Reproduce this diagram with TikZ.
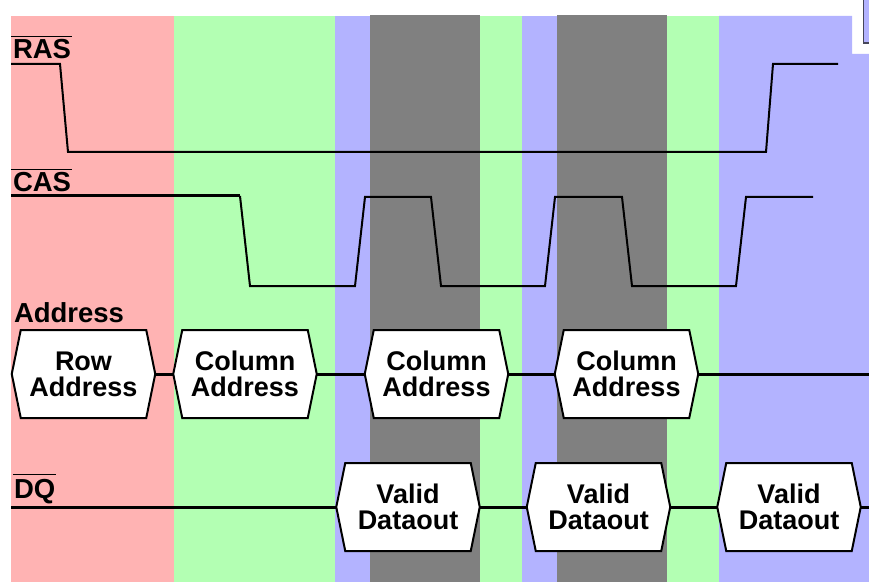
\documentclass[tikz,border=0pt]{standalone}
\usepackage{fontspec}
\setmainfont{Liberation Sans}
\pgfdeclarelayer{bg}
\pgfdeclarelayer{hex}
\pgfsetlayers{bg,hex,main}
\definecolor{pinkbg}{RGB}{255,179,179}
\definecolor{greenbg}{RGB}{179,255,179}
\definecolor{bluebg}{RGB}{179,179,255}
\definecolor{graybg}{RGB}{128,128,128}
\definecolor{edgec}{RGB}{70,70,90}
\tikzset{
  sig/.style={line width=2bp, line join=miter},
  sigthick/.style={line width=3bp},
  bus/.style={line width=3bp},
  hexline/.style={line width=2bp, fill=white, draw=black, line join=miter},
  ovl/.style={line width=1bp},
  lab/.style={inner sep=0pt, outer sep=0pt, font=\fontsize{27.5bp}{27.5bp}\selectfont\bfseries},
  boxtxt/.style={inner sep=0pt, outer sep=0pt, minimum width=143.5bp, minimum height=88bp,
    align=center, font=\fontsize{27bp}{26bp}\selectfont\bfseries},
}
\begin{document}
\begin{tikzpicture}[x=1bp,y=-1bp]
\useasboundingbox (0,0) rectangle (869,582);
\begin{pgfonlayer}{bg}
\begin{scope}
\clip (0,0) rectangle (869,582);
\fill[pinkbg] (11,16) rectangle (174,582);
\fill[greenbg] (174,16) rectangle (335,582);
\fill[bluebg] (335,16) rectangle (370,582);
\fill[graybg] (370,15) rectangle (480,582);
\fill[greenbg] (480,16) rectangle (522,582);
\fill[bluebg] (522,16) rectangle (557,582);
\fill[graybg] (557,15) rectangle (667,582);
\fill[greenbg] (667,16) rectangle (719,582);
\fill[bluebg] (719,16) -- (852,16) -- (852,54) -- (869,54) -- (869,582) -- (719,582) -- cycle;
\filldraw[fill=bluebg, draw=edgec, line width=1.5bp] (863.5,-5) rectangle (880,43);
\end{scope}
\end{pgfonlayer}

% labels
\node[lab, anchor=base west] (ras) at (13,59) {RAS};
\node[lab, anchor=base west] (cas) at (13,192) {CAS};
\node[lab, anchor=base west] (addr) at (14,322) {Address};
\node[lab, anchor=base west] (dq) at (14,498) {DQ};
\draw[ovl] ([xshift=-2bp,yshift=3bp]ras.north west) -- ([xshift=1bp,yshift=3bp]ras.north east);
\draw[ovl] ([xshift=-2bp,yshift=3bp]cas.north west) -- ([xshift=1bp,yshift=3bp]cas.north east);
\draw[ovl] ([xshift=-1bp,yshift=4bp]dq.north west) -- ([xshift=1bp,yshift=4bp]dq.north east);

% RAS waveform
\draw[sig] (11,64) -- (60,64) -- (68,152) -- (766,152) -- (773,64) -- (838,64);
% CAS waveform
\draw[sigthick] (11,196) -- (240,196);
\draw[sig] (240,196) -- (250,286) -- (355,286) -- (365,197) -- (431,197) -- (441,286)
  -- (545,286) -- (555,197) -- (622,197) -- (632,286) -- (736,286) -- (746,197) -- (813,197);

% Address boxes
\node[boxtxt] (row) at (83.5,374) {Row\\Address};
\node[boxtxt] (ca) at (245,374) {Column\\Address};
\node[boxtxt] (cb) at (436.5,374) {Column\\Address};
\node[boxtxt] (cc) at (626.5,374) {Column\\Address};
% DQ boxes
\node[boxtxt] (da) at (408,507) {Valid\\Dataout};
\node[boxtxt] (db) at (598.5,507) {Valid\\Dataout};
\node[boxtxt] (dc) at (789,507) {Valid\\Dataout};

\coordinate (aend) at (869,374);
\coordinate (dqstart) at (11,507);
\coordinate (dqend) at (869,507);

\begin{pgfonlayer}{hex}
\foreach \n in {row,ca,cb,cc,da,db,dc}
  \draw[hexline] (\n.west) -- ([xshift=9bp]\n.north west) -- ([xshift=-9bp]\n.north east)
    -- (\n.east) -- ([xshift=-9bp]\n.south east) -- ([xshift=9bp]\n.south west) -- cycle;
\end{pgfonlayer}

\draw[bus] (row.east) -- (ca.west);
\draw[bus] (ca.east) -- (cb.west);
\draw[bus] (cb.east) -- (cc.west);
\draw[bus] (cc.east) -- (aend);
\draw[bus] (dqstart) -- (da.west);
\draw[bus] (da.east) -- (db.west);
\draw[bus] (db.east) -- (dc.west);
\draw[bus] (dc.east) -- (dqend);
\end{tikzpicture}
\end{document}
